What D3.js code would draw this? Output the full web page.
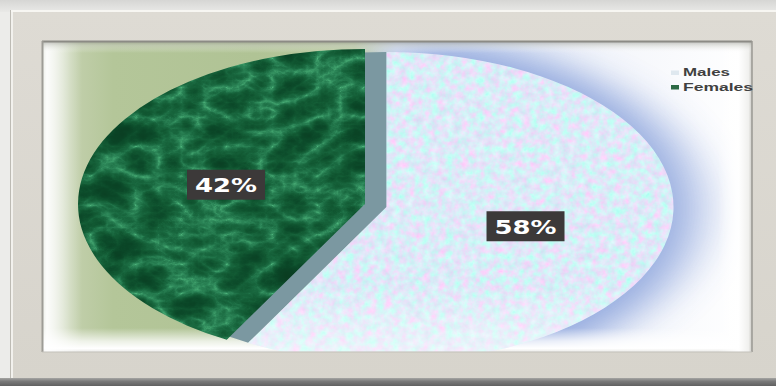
<!DOCTYPE html>
<html><head><meta charset="utf-8">
<script src="https://cdn.jsdelivr.net/npm/d3@7"></script>
<style>body{margin:0;background:#fff;} svg{display:block}</style>
</head><body><svg id="c" width="776" height="386"></svg>
<script>
// ---- data ----
const categories = ["Males", "Females"];
const values = [58, 42];
const valueLabels = ["58%", "42%"];

// ---- styles / layout ----
const legendSwatch = ["#dfe8ef", "#2d6a45"];
const W = 776, H = 386;
const frame = {x: 10, y: 10, w: 766, h: 368};
const panel = {x: 42, y: 41, w: 710, h: 311};
const cx = 365, cy = 204, rx = 287, ry = 155;
const sx = rx / ry;
const explode = [12, 0];

const svg = d3.select("#c");
const defs = svg.append("defs");

function lin(id, x1, y1, x2, y2, stops) {
  const g = defs.append("linearGradient").attr("id", id)
    .attr("x1", x1).attr("y1", y1).attr("x2", x2).attr("y2", y2);
  stops.forEach(s => g.append("stop").attr("offset", s[0]).attr("stop-color", s[1]).attr("stop-opacity", s[2] == null ? 1 : s[2]));
}
lin("panelG", 0, 0, 1, 0, [[0, "#e4e8df"], [0.04, "#c3d0ad"], [0.1, "#b4c699"], [0.3, "#b0c395"], [0.44, "#b7c89e"], [0.465, "#c2cfc0"], [0.5, "#d6dff0"], [0.62, "#e1e8f6"], [0.8, "#f4f6fb"], [1, "#ffffff"]]);
lin("leftB", 0, 0, 1, 0, [[0, "#ffffff", 0.3], [0.12, "#ffffff", 0.9], [0.45, "#ffffff", 0.55], [1, "#ffffff", 0]]);
lin("topB", 0, 0, 0, 1, [[0, "#8a8a84", 0.55], [0.35, "#c8cac2", 0.5], [1, "#ffffff", 0]]);
lin("botB", 0, 0, 0, 1, [[0, "#ffffff", 0], [0.55, "#ffffff", 0.75], [0.85, "#ffffff", 1], [1, "#e9e9e6", 1]]);
lin("rightB", 0, 0, 1, 0, [[0, "#ffffff", 0], [0.6, "#ffffff", 0.9], [0.9, "#f0f0ee", 1], [1, "#c9c8c2", 1]]);
lin("topOut", 0, 0, 0, 1, [[0, "#d6d6d4"], [1, "#e9e9e7"]]);
lin("botOut", 0, 0, 0, 1, [[0, "#a5a5a3"], [0.4, "#7a7a7a"], [1, "#606060"]]);
lin("frameG", 0, 0, 0, 1, [[0, "#dedbd4"], [1, "#d7d4cc"]]);

// textures
const mf = defs.append("filter").attr("id", "marble").attr("filterUnits", "userSpaceOnUse")
  .attr("x", 0).attr("y", 0).attr("width", W).attr("height", H)
  .attr("color-interpolation-filters", "sRGB");
mf.append("feTurbulence").attr("type", "turbulence").attr("baseFrequency", "0.022 0.034").attr("numOctaves", 6).attr("seed", 11);
mf.append("feColorMatrix").attr("type", "matrix").attr("values", "1 0 0 0 0  1 0 0 0 0  1 0 0 0 0  0 0 0 0 1");
const ct = mf.append("feComponentTransfer");
ct.append("feFuncR").attr("type", "table").attr("tableValues", "0.30 0.17 0.10 0.07 0.05 0.04 0.04 0.04");
ct.append("feFuncG").attr("type", "table").attr("tableValues", "0.70 0.52 0.41 0.35 0.30 0.27 0.25 0.24");
ct.append("feFuncB").attr("type", "table").attr("tableValues", "0.48 0.34 0.25 0.20 0.17 0.15 0.14 0.13");

const pf = defs.append("filter").attr("id", "pastel").attr("filterUnits", "userSpaceOnUse")
  .attr("x", 0).attr("y", 0).attr("width", W).attr("height", H)
  .attr("color-interpolation-filters", "sRGB");
pf.append("feTurbulence").attr("type", "fractalNoise").attr("baseFrequency", "0.13").attr("numOctaves", 3).attr("seed", 4);
pf.append("feColorMatrix").attr("type", "matrix")
  .attr("values", "0.32 -0.22 0 0 0.81  -0.14 0.28 0 0 0.85  0.06 0 0 0 0.94  0 0 0 0 1");

const blur = defs.append("filter").attr("id", "glow").attr("x", "-30%").attr("y", "-30%").attr("width", "160%").attr("height", "160%");
blur.append("feGaussianBlur").attr("stdDeviation", 14);

// pie geometry
const pie = d3.pie().sort(null).value(d => d);
const arcs = pie(values);
const arc = d3.arc().innerRadius(0).outerRadius(ry);
function off(a, i) {
  const m = (a.startAngle + a.endAngle) / 2;
  return [Math.sin(m) * explode[i] * sx, -Math.cos(m) * explode[i]];
}
function tf(i) { const o = off(arcs[i], i); return `translate(${cx + o[0]},${cy + o[1]}) scale(${sx},1)`; }

arcs.forEach((a, i) => {
  defs.append("clipPath").attr("id", "clip" + i)
    .append("path").attr("d", arc(a)).attr("transform", tf(i));
});
defs.append("clipPath").attr("id", "panelClip").append("rect")
  .attr("x", panel.x + 1).attr("y", panel.y + 6).attr("width", panel.w - 2).attr("height", panel.h - 6.5);
defs.append("clipPath").attr("id", "panelClipAll").append("rect")
  .attr("x", panel.x).attr("y", panel.y).attr("width", panel.w).attr("height", panel.h);

// ---- outer background ----
svg.append("rect").attr("width", W).attr("height", H).attr("fill", "#ececea");
svg.append("rect").attr("width", W).attr("height", frame.y + 2).attr("fill", "url(#topOut)");
svg.append("rect").attr("x", 0).attr("y", frame.y + frame.h).attr("width", W).attr("height", H - frame.y - frame.h).attr("fill", "url(#botOut)");
svg.append("rect").attr("x", frame.x).attr("y", frame.y).attr("width", frame.w).attr("height", frame.h).attr("fill", "url(#frameG)");
svg.append("line").attr("x1", frame.x).attr("x2", W).attr("y1", frame.y + 1).attr("y2", frame.y + 1).attr("stroke", "#f7f6f2").attr("stroke-width", 2);
svg.append("line").attr("x1", frame.x + 0.5).attr("x2", frame.x + 0.5).attr("y1", frame.y).attr("y2", frame.y + frame.h).attr("stroke", "#bdbbb4").attr("stroke-width", 1);
svg.append("line").attr("x1", frame.x + 2).attr("x2", frame.x + 2).attr("y1", frame.y + 2).attr("y2", frame.y + frame.h).attr("stroke", "#f2f1ed").attr("stroke-width", 2);

// ---- panel ----
const pg = svg.append("g").attr("clip-path", "url(#panelClipAll)");
pg.append("rect").attr("x", panel.x).attr("y", panel.y).attr("width", panel.w).attr("height", panel.h).attr("fill", "url(#panelG)");
// blue glow behind males
pg.append("path").attr("d", arc(arcs[0])).attr("transform", (() => { const o = off(arcs[0], 0); return `translate(${cx + o[0] + 16},${cy + o[1] + 2}) scale(${sx * 1.03},1.08)`; })())
  .attr("fill", "#8aa3dc").attr("opacity", 0.9).attr("filter", "url(#glow)");
// bevel overlays
pg.append("rect").attr("x", panel.x).attr("y", panel.y + panel.h - 24).attr("width", panel.w).attr("height", 24).attr("fill", "url(#botB)");
pg.append("rect").attr("x", panel.x + panel.w - 34).attr("y", panel.y).attr("width", 34).attr("height", panel.h).attr("fill", "url(#rightB)");
pg.append("rect").attr("x", panel.x).attr("y", panel.y).attr("width", 40).attr("height", panel.h).attr("fill", "url(#leftB)");
pg.append("rect").attr("x", panel.x).attr("y", panel.y).attr("width", panel.w).attr("height", 12).attr("fill", "url(#topB)");

// ---- pie ----
const pieG = svg.append("g").attr("clip-path", "url(#panelClip)");
// gap shadow: females slice drawn at the exploded position
pieG.append("path").attr("d", arc(arcs[1])).attr("transform", tf(0)).attr("fill", "#7b98a1");
arcs.forEach((a, i) => {
  const g = pieG.append("g").attr("clip-path", `url(#clip${i})`);
  g.append("rect").attr("width", W).attr("height", H)
    .attr("filter", i === 0 ? "url(#pastel)" : "url(#marble)");
});
lin("maleFade", 0, 0, 0, 1, [[0, "#ffffff", 0], [0.75, "#ffffff", 0], [1, "#ffffff", 0.5]]);
pieG.append("path").attr("d", arc(arcs[0])).attr("transform", tf(0)).attr("fill", "url(#maleFade)");

// panel edge lines
svg.append("line").attr("x1", panel.x).attr("x2", panel.x + panel.w).attr("y1", panel.y + 0.5).attr("y2", panel.y + 0.5).attr("stroke", "#8c8b85").attr("stroke-width", 2);
svg.append("line").attr("x1", panel.x + 0.5).attr("x2", panel.x + 0.5).attr("y1", panel.y).attr("y2", panel.y + panel.h).attr("stroke", "#9d9c96").attr("stroke-width", 2);
svg.append("line").attr("x1", panel.x + panel.w).attr("x2", panel.x + panel.w).attr("y1", panel.y).attr("y2", panel.y + panel.h).attr("stroke", "#9a9993").attr("stroke-width", 1.5);
svg.append("line").attr("x1", panel.x).attr("x2", panel.x + panel.w).attr("y1", panel.y + panel.h).attr("y2", panel.y + panel.h).attr("stroke", "#c3c1ba").attr("stroke-width", 1);

// ---- data labels ----
arcs.forEach((a, i) => {
  const c = arc.centroid(a), o = off(a, i);
  const x = cx + o[0] + c[0] * sx, y = cy + o[1] + c[1];
  const g = svg.append("g").attr("transform", `translate(${x},${y})`);
  g.append("rect").attr("x", -39).attr("y", -15).attr("width", 78).attr("height", 30).attr("fill", "#3c3939");
  g.append("text").text(valueLabels[i]).attr("x", 0).attr("y", 7.5).attr("text-anchor", "middle")
    .attr("font-family", "DejaVu Sans, Verdana, sans-serif").attr("font-weight", "bold").attr("font-size", 20)
    .attr("textLength", 62).attr("lengthAdjust", "spacingAndGlyphs").attr("fill", "#ffffff");
});

// ---- legend ----
const lg = svg.append("g").attr("transform", "translate(671,76)");
categories.forEach((cat, i) => {
  const row = lg.append("g").attr("transform", `translate(0,${i * 14.5})`);
  row.append("rect").attr("x", 0).attr("y", -5.5).attr("width", 8).attr("height", 4.5).attr("fill", legendSwatch[i]);
  row.append("text").text(cat).attr("x", 12).attr("y", 0)
    .attr("font-family", "Liberation Sans, Arial, sans-serif").attr("font-weight", "bold").attr("font-size", 11.5)
    .attr("textLength", i === 0 ? 47 : 70).attr("lengthAdjust", "spacingAndGlyphs").attr("fill", "#404040");
});
</script></body></html>
